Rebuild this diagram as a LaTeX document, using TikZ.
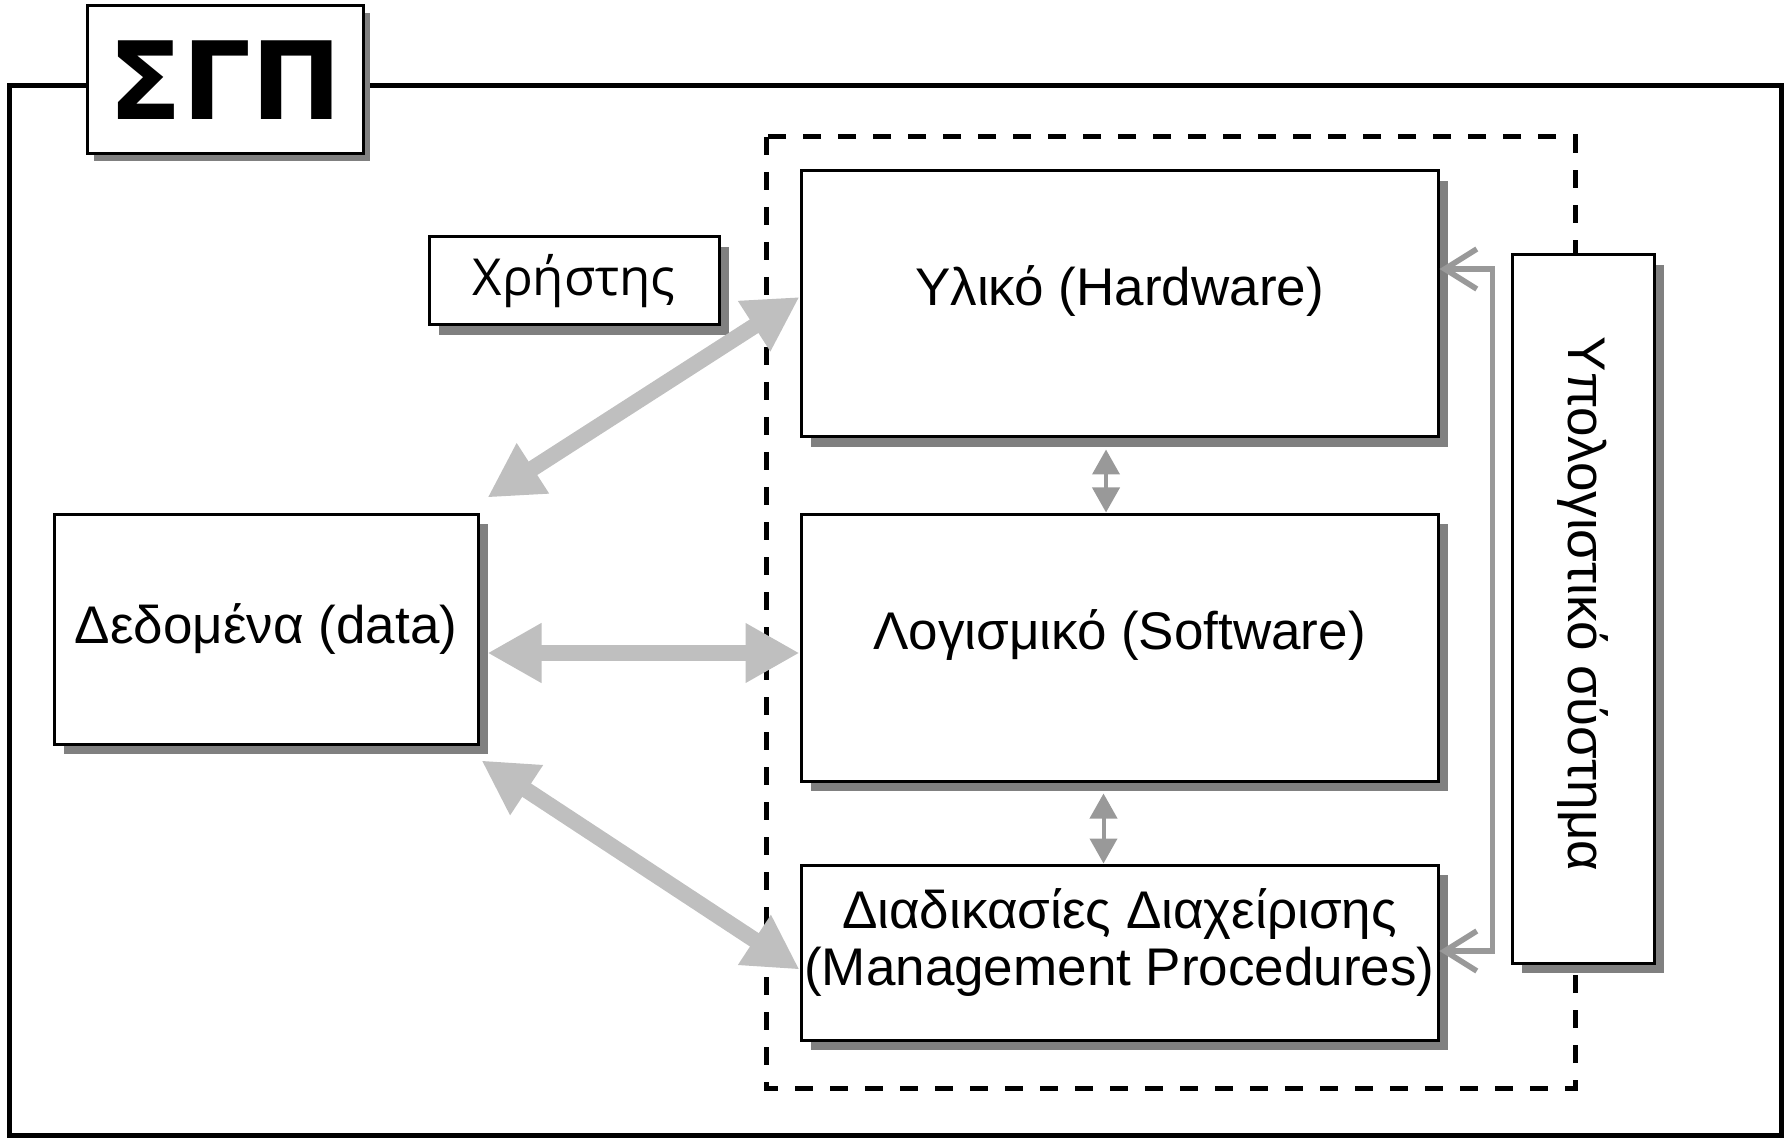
\documentclass[tikz,border=0pt]{standalone}
\usepackage{fontspec}
\setmainfont{Liberation Sans}
\newfontfamily\userfont{Open Sans}
\newfontfamily\titlefont{DejaVu Sans}
\usetikzlibrary{arrows.meta,positioning,calc,shadows}

\begin{document}
\begin{tikzpicture}[x=0.5pt,y=-0.5pt,
        plainBox/.style={draw,fill=white,line width=1.5pt,inner sep=0pt,
            drop shadow={shadow xshift=#1,shadow yshift=-#1,fill=black!50,opacity=1}},
        plainBox/.default=5pt,
        boxText/.style={font=\fontsize{26.5}{28.5}\selectfont,align=center},
        bigArrow/.style={draw=black!25,line width=8pt,
            {Triangle[length=27pt,width=28pt]}-{Triangle[length=27pt,width=28pt]}},
        smallArrow/.style={draw=black!40,line width=2pt,
            {Triangle[length=12.5pt,width=13.5pt]}-{Triangle[length=12.5pt,width=13.5pt]}},
        fbArrow/.style={draw=black!40,line width=2.8pt,
            {Straight Barb[length=16pt,width=20pt]}-{Straight Barb[length=16pt,width=20pt]}}]
    \useasboundingbox (0,0) rectangle (1792,1138);
    % frame and computer system boundary
    \draw[line width=2.5pt] (9,86) rectangle (1781,1135);
    \draw[line width=2.5pt,dash pattern=on 9pt off 8.5pt] (766,137) rectangle (1575,1088);
    % boxes
    \node[plainBox=3.5pt,minimum width=138pt,minimum height=74pt,
        font=\titlefont\bfseries\fontsize{54}{54}\selectfont] (sgp) at (225,80) {ΣΓΠ};
    \node[plainBox,boxText,minimum width=318.5pt,minimum height=133pt,text depth=18pt] (hw) at (1119.5,304) {Υλικό (Hardware)};
    \node[plainBox,boxText,minimum width=318.5pt,minimum height=133.5pt,text depth=18pt] (sw) at (1119.5,647.5) {Λογισμικό (Software)};
    \node[plainBox,boxText,minimum width=318.5pt,minimum height=87.5pt,text depth=15pt] (mp) at (1119.5,952.5) {Διαδικασίες Διαχείρισης\\(Management Procedures)};
    \node[plainBox,minimum width=145pt,minimum height=44pt,
        font=\userfont\fontsize{25.5}{28}\selectfont] (user) at (574,281) {Χρήστης};
    \node[plainBox,boxText,minimum width=212pt,minimum height=115pt] (data) at (266,629) {Δεδομένα (data)};
    \node[plainBox,minimum width=71pt,minimum height=354pt] (cs) at (1583,609) {};
    \node[boxText,rotate=-90] (csText) at ($(cs.center)+(0,-5)$) {Υπολογιστικό σύστημα};
    % data flows
    \draw[bigArrow] ($(data.north east)+(8,-15)$) -- ($(hw.west)+(0,-7)$);
    \draw[bigArrow] ($(data.east)+(8,24)$) -- ($(sw.west)+(0,5.5)$);
    \draw[bigArrow] ($(data.south east)+(2,15)$) -- ($(mp.west)+(0,17)$);
    \draw[smallArrow] ($(hw.south)+(-13.5,11)$) -- ($(sw.north)+(-13.5,0)$);
    \draw[smallArrow] ($(sw.south)+(-16,11)$) -- ($(mp.north)+(-16,0)$);
    \draw[fbArrow] ($(hw.east)+(0,-35)$) -- ++(53,0) |- ($(mp.east)+(0,-1.5)$);
\end{tikzpicture}
\end{document}
